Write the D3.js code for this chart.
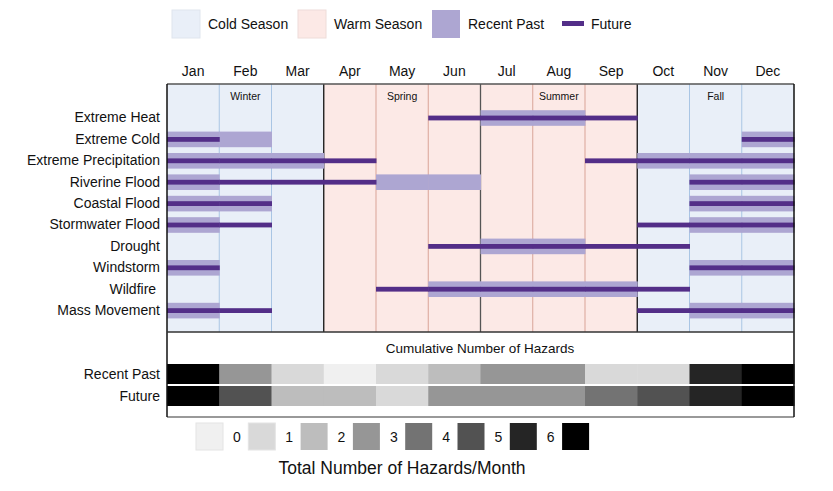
<!DOCTYPE html>
<meta charset="utf-8">
<html>
<head>
<script src="https://d3js.org/d3.v7.min.js"></script>
<style>
  body { margin: 0; background: #fff; }
  text { font-family: "Liberation Sans", Arial, sans-serif; fill: #111; }
</style>
</head>
<body>
<div id="chart"></div>
<script>
// data
var months = ["Jan","Feb","Mar","Apr","May","Jun","Jul","Aug","Sep","Oct","Nov","Dec"];
var hazards = ["Extreme Heat","Extreme Cold","Extreme Precipitation","Riverine Flood","Coastal Flood",
               "Stormwater Flood","Drought","Windstorm","Wildfire\u00a0","Mass Movement"];
// months with hazard (1 = Jan ... 12 = Dec)
var recentPast = [
  [7,8],
  [1,2,12],
  [1,2,3,10,11,12],
  [1,5,6,11,12],
  [1,2,11,12],
  [1,11,12],
  [7,8],
  [1,11,12],
  [6,7,8,9],
  [1,11,12]
];
var future = [
  [6,7,8,9],
  [1,12],
  [1,2,3,4,9,10,11,12],
  [1,2,3,4,11,12],
  [1,2,11,12],
  [1,2,10,11,12],
  [6,7,8,9,10],
  [1,11,12],
  [5,6,7,8,9,10],
  [1,2,10,11,12]
];
var recentCounts = [7,3,1,0,1,2,3,3,1,1,6,7];
var futureCounts = [7,5,2,2,1,3,3,3,4,5,6,7];
var seasons = [{name:"Winter", month:"Feb"},{name:"Spring", month:"May"},{name:"Summer", month:"Aug"},{name:"Fall", month:"Nov"}];
var warmMonths = ["Apr","May","Jun","Jul","Aug","Sep"];
var countLevels = [0,1,2,3,4,5,6,7];

var W = 833, H = 491;
var svg = d3.select("#chart").append("svg").attr("width", W).attr("height", H);

var coldBg = "#e9eff8", warmBg = "#fce9e6";
var coldLine = "#a9c5e4", warmLine = "#d9a397";
var recentCol = "#ada6d2", futureCol = "#532e88";
var greys = d3.schemeGreys[9].slice(1); // 8 shades, 0..7

var x = d3.scaleBand().domain(months).range([167, 794]);
var y = d3.scaleBand().domain(hazards).range([107.3, 321.3]);
var top0 = 84, bot0 = 332;
var grey = d3.scaleOrdinal().domain(countLevels).range(greys);

// month backgrounds
svg.selectAll("rect.bg").data(months).enter().append("rect")
  .attr("x", function(d) { return x(d); })
  .attr("y", top0)
  .attr("width", x.bandwidth())
  .attr("height", bot0 - top0)
  .attr("fill", function(d) { return warmMonths.indexOf(d) >= 0 ? warmBg : coldBg; });

// month divider lines
svg.selectAll("line.div").data(months.slice(1)).enter().append("line")
  .attr("x1", function(d) { return x(d); })
  .attr("x2", function(d) { return x(d); })
  .attr("y1", top0).attr("y2", bot0)
  .attr("stroke", function(d) {
    if (d == "Apr" || d == "Oct") return "#111";
    if (d == "Jul") return "#555";
    return warmMonths.indexOf(d) >= 0 ? warmLine : coldLine;
  })
  .attr("stroke-width", function(d) { return (d == "Apr" || d == "Oct" || d == "Jul") ? 1.3 : 1; });

// season labels
svg.selectAll("text.season").data(seasons).enter().append("text")
  .attr("x", function(d) { return x(d.month) + x.bandwidth() / 2; })
  .attr("y", 100)
  .attr("text-anchor", "middle")
  .style("font-size", "10.5px")
  .text(function(d) { return d.name; });

// recent past bands
hazards.forEach(function(h, i) {
  svg.selectAll(null).data(recentPast[i]).enter().append("rect")
    .attr("x", function(m) { return x(months[m - 1]); })
    .attr("y", y(h) + y.bandwidth() / 2 - 7.8)
    .attr("width", x.bandwidth() + 0.5)
    .attr("height", 15.6)
    .attr("fill", recentCol);
});
// future lines
hazards.forEach(function(h, i) {
  svg.selectAll(null).data(future[i]).enter().append("rect")
    .attr("x", function(m) { return x(months[m - 1]); })
    .attr("y", y(h) + y.bandwidth() / 2 - 2.4)
    .attr("width", x.bandwidth() + 0.5)
    .attr("height", 4.8)
    .attr("fill", futureCol);
});

// cumulative panel
svg.append("rect").attr("x", 167).attr("y", bot0 + 1).attr("width", 627).attr("height", 84)
  .attr("fill", "#fff");
svg.append("text").attr("x", 480).attr("y", 353).attr("text-anchor", "middle")
  .style("font-size", "13.5px").text("Cumulative Number of Hazards");

var rows = [{name:"Recent Past", counts:recentCounts, y0:364}, {name:"Future", counts:futureCounts, y0:386}];
rows.forEach(function(r) {
  svg.selectAll(null).data(r.counts).enter().append("rect")
    .attr("x", function(c, j) { return x(months[j]); })
    .attr("y", r.y0)
    .attr("width", x.bandwidth() + 0.5)
    .attr("height", 20)
    .attr("fill", function(c) { return grey(c); });
  svg.append("text").attr("x", 160).attr("y", r.y0 + 15).attr("text-anchor", "end")
    .style("font-size", "14px").text(r.name);
});
svg.append("line").attr("x1", 167).attr("x2", 794).attr("y1", 417).attr("y2", 417)
  .attr("stroke", "#999").attr("stroke-width", 2);

// frames
svg.append("line").attr("x1", 167).attr("x2", 794).attr("y1", top0).attr("y2", top0)
  .attr("stroke", "#555").attr("stroke-width", 1.5);
svg.append("line").attr("x1", 167).attr("x2", 167).attr("y1", top0).attr("y2", 417)
  .attr("stroke", "#111").attr("stroke-width", 1.5);
svg.append("line").attr("x1", 794).attr("x2", 794).attr("y1", top0).attr("y2", 417)
  .attr("stroke", "#111").attr("stroke-width", 1.5);
svg.append("line").attr("x1", 167).attr("x2", 794).attr("y1", bot0).attr("y2", bot0)
  .attr("stroke", "#333").attr("stroke-width", 1.5);

// month labels
svg.append("g").attr("transform", "translate(0," + top0 + ")")
  .call(d3.axisTop(x).tickSize(0).tickPadding(8))
  .call(function(g) { g.select(".domain").remove(); })
  .selectAll("text")
  .style("font-size", "14px")
  .style("font-family", "Liberation Sans, Arial, sans-serif")
  .attr("fill", "#111");

// hazard labels
svg.append("g").attr("transform", "translate(167,0)")
  .call(d3.axisLeft(y).tickSize(0).tickPadding(7))
  .call(function(g) { g.select(".domain").remove(); })
  .selectAll("text")
  .style("font-size", "14px")
  .style("font-family", "Liberation Sans, Arial, sans-serif")
  .attr("fill", "#111");

// top legend
var leg = svg.append("g");
var legItems = [
  {label:"Cold Season", x:172, fill:coldBg, stroke:"#dfe5ee"},
  {label:"Warm Season", x:298, fill:warmBg, stroke:"#eedcd9"},
  {label:"Recent Past", x:432, fill:recentCol, stroke:"none"}
];
legItems.forEach(function(d) {
  leg.append("rect").attr("x", d.x).attr("y", 10).attr("width", 28).attr("height", 28)
    .attr("fill", d.fill).attr("stroke", d.stroke);
  leg.append("text").attr("x", d.x + 36).attr("y", 29).style("font-size", "14px").text(d.label);
});
leg.append("rect").attr("x", 562).attr("y", 21).attr("width", 22).attr("height", 5).attr("fill", futureCol);
leg.append("text").attr("x", 591).attr("y", 29).style("font-size", "14px").text("Future");

// bottom legend
var bl = svg.append("g");
bl.selectAll("rect").data(countLevels).enter().append("rect")
  .attr("x", function(d) { return 196 + d * 52.3; })
  .attr("y", 423).attr("width", 27).attr("height", 27)
  .attr("fill", function(d) { return grey(d); })
  .attr("stroke", function(d) { return d < 2 ? "#e4e4e4" : "none"; });
bl.selectAll("text").data(countLevels.slice(0, 7)).enter().append("text")
  .attr("x", function(d) { return 233 + d * 52.3; })
  .attr("y", 442)
  .style("font-size", "14px")
  .text(function(d) { return d; });
svg.append("text").attr("x", 402).attr("y", 474).attr("text-anchor", "middle")
  .style("font-size", "17.5px").text("Total Number of Hazards/Month");
</script>
</body>
</html>
